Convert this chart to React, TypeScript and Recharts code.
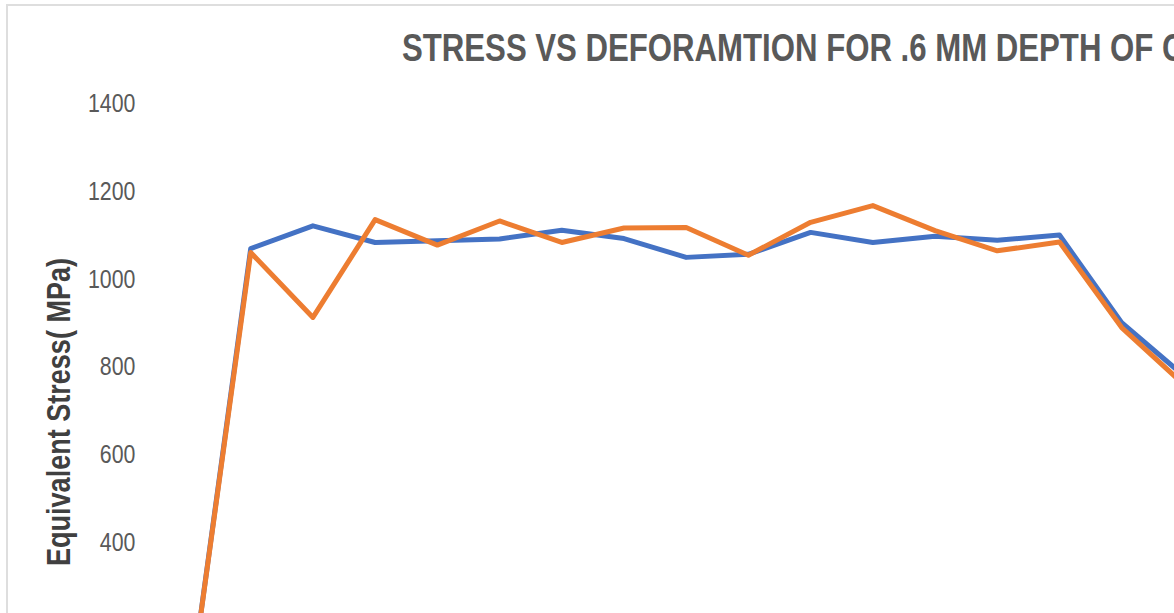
import React from "react";
import { LineChart, Line, XAxis, YAxis } from "recharts";

const categories = ["1", "2", "3", "4", "5", "6", "7", "8", "9", "10", "11", "12", "13", "14", "15", "16", "17"];
const series1 = [30, 1068, 1120, 1082, 1086, 1090, 1110, 1091, 1048, 1055, 1105, 1082, 1096, 1087, 1099, 899, 778];
const series2 = [30, 1059, 911, 1134, 1076, 1131, 1082, 1115, 1116, 1053, 1128, 1166, 1109, 1063, 1083, 888, 758];
const yTicks = [0, 200, 400, 600, 800, 1000, 1200, 1400];

const title = "STRESS VS DEFORAMTION FOR .6 MM DEPTH OF CUT";
const yTitle = "Equivalent Stress( MPa)";

const data = categories.map((c, i) => ({ cat: c, s1: series1[i], s2: series2[i] }));

const FONT = "'Liberation Sans', Arial, sans-serif";
const NARROW = 0.82;

const YTick = (props: any) => {
  const { x, y, payload } = props;
  return (
    <text
      transform={`translate(${x},${y}) scale(${NARROW},1)`}
      textAnchor="end"
      dy="0.355em"
      fontFamily={FONT}
      fontSize={26}
      fill="#595959"
    >
      {payload.value}
    </text>
  );
};

export default function App() {
  return (
    <div style={{ position: "fixed", left: 0, top: 0, width: 1174, height: 613, overflow: "hidden", background: "#fff" }}>
      <div
        style={{
          position: "absolute",
          left: 6,
          top: 4,
          borderLeft: "2px solid #dedede",
          borderTop: "2px solid #dedede",
          width: 1300,
          height: 800,
        }}
      >
        <LineChart width={1260} height={711} data={data} margin={{ top: 97, right: 53, left: 0, bottom: 0 }}>
          <XAxis dataKey="cat" hide padding={{ left: 31.1, right: 31.1 }} />
          <YAxis
            width={149.4}
            domain={[0, 1400]}
            ticks={yTicks}
            axisLine={false}
            tickLine={false}
            tickMargin={16}
            tick={<YTick />}
          />
          <Line
            type="linear"
            dataKey="s1"
            name="Series1"
            stroke="#4472C4"
            strokeWidth={5}
            dot={false}
            strokeLinejoin="round"
            isAnimationActive={false}
          />
          <Line
            type="linear"
            dataKey="s2"
            name="Series2"
            stroke="#ED7D31"
            strokeWidth={5}
            dot={false}
            strokeLinejoin="round"
            isAnimationActive={false}
          />
        </LineChart>
      </div>
      <div
        style={{
          position: "absolute",
          left: 402,
          top: 29,
          fontFamily: FONT,
          fontWeight: "bold",
          fontSize: 38,
          lineHeight: "38px",
          color: "#595959",
          whiteSpace: "nowrap",
          transform: `scale(${NARROW},1)`,
          transformOrigin: "0 0",
        }}
      >
        {title}
      </div>
      <svg style={{ position: "absolute", left: 0, top: 0 }} width={120} height={613}>
        <text
          transform={`translate(70,412) rotate(-90) scale(${NARROW},1)`}
          textAnchor="middle"
          fontFamily={FONT}
          fontWeight="bold"
          fontSize={33}
          fill="#404040"
        >
          {yTitle}
        </text>
      </svg>
    </div>
  );
}
